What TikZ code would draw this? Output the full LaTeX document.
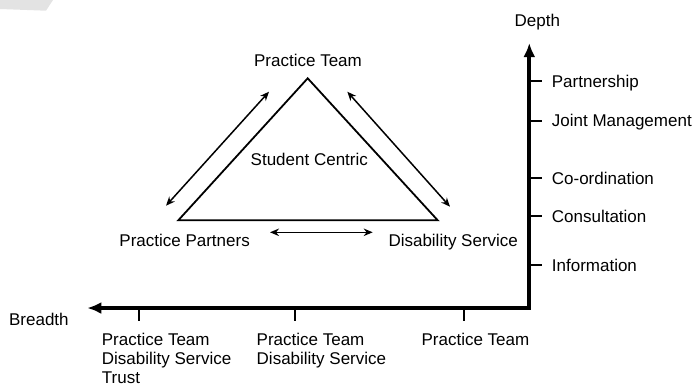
\documentclass[tikz,border=0pt]{standalone}
\usepackage{fontspec}
\setmainfont{Liberation Sans}
\usetikzlibrary{arrows.meta}

\begin{document}
\begin{tikzpicture}[x=1pt, y=-1pt,
    lbl/.style={font=\fontsize{17}{21.4}\selectfont, inner sep=0pt,
                text height=12.2pt, text depth=0pt},
    stack/.style={font=\fontsize{17}{18.8}\selectfont, inner sep=0pt,
                  align=left, anchor=north west},
    link/.style={line width=1.5pt,
                 {Stealth[length=9pt,width=7.5pt]}-{Stealth[length=9pt,width=7.5pt]}},
    axis/.style={line width=4pt, line join=miter,
                 {Latex[length=14pt,width=12pt]}-{Latex[length=14pt,width=12pt]}},
    tickmark/.style={line width=2pt}]
  \useasboundingbox (0,0) rectangle (692,384);
  \fill[black!11] (0,0) -- (53,0) -- (46,10.7) -- (0,9) -- cycle;

  % triangle of partners
  \coordinate (top) at (307.7,78.3);
  \coordinate (left) at (178.3,220.3);
  \coordinate (right) at (437.7,220.3);
  \draw[line width=1.8pt, line join=miter] (top) -- (left) -- (right) -- cycle;

  \node[lbl] (team) at (308,60.7) {Practice Team};
  \node[lbl] (centre) at (309.3,159) {Student Centric};
  \node[lbl, anchor=east] (partners) at (250,240) {Practice Partners};
  \node[lbl, anchor=west] (service) at (388.3,240) {Disability Service};

  \coordinate (tl-a) at (166,205.7);
  \coordinate (tl-b) at (269,91.7);
  \coordinate (tr-a) at (347.3,91.7);
  \coordinate (tr-b) at (450,206.7);
  \coordinate (b-a) at (270,232.3);
  \coordinate (b-b) at (372.7,232.3);
  \draw[link] (tl-a) -- (tl-b);
  \draw[link] (tr-a) -- (tr-b);
  \draw[link] (b-a) -- (b-b);

  % axes
  \coordinate (origin) at (529.3,308);
  \coordinate (xtip) at (87.3,308);
  \coordinate (ytip) at (529.3,43);
  \draw[axis] (xtip) -- (origin) -- (ytip);

  \node[lbl] (depth) at (537.3,20.7) {Depth};
  \node[lbl, anchor=west] (breadth) at (8.9,319.2) {Breadth};

  % depth levels
  \foreach \y/\txt [count=\i] in {81/Partnership, 120.7/Joint Management,
      178.3/Co-ordination, 216/Consultation, 265/Information} {
    \coordinate (dt\i) at (529.3,\y);
    \node[lbl, anchor=west] (d\i) at (551.7,\y) {\txt};
    \draw[tickmark] (dt\i) -- ++(12.4,0);
  }

  % breadth levels
  \coordinate (bt1) at (139.3,308);
  \coordinate (bt2) at (295,308);
  \coordinate (bt3) at (464.3,308);
  \draw[tickmark] (bt1) -- ++(0,12.5);
  \draw[tickmark] (bt2) -- ++(0,12.5);
  \draw[tickmark] (bt3) -- ++(0,12.5);
  \node[stack] (b1) at (101.7,333) {Practice Team\\Disability Service\\Trust};
  \node[stack] (b2) at (256.5,333) {Practice Team\\Disability Service};
  \node[stack] (b3) at (421.4,333) {Practice Team};
\end{tikzpicture}
\end{document}
